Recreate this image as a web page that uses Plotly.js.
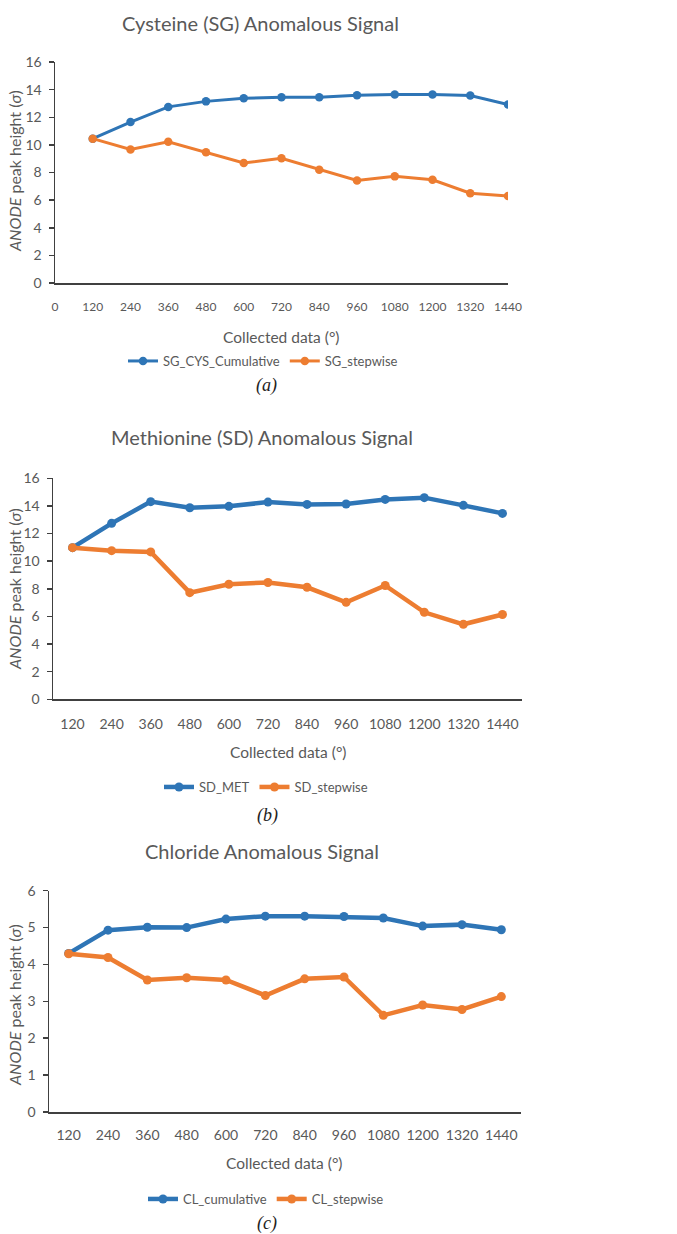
<!DOCTYPE html>
<html>
<head>
<meta charset="utf-8">
<script src="https://cdn.plot.ly/plotly-3.0.1.min.js"></script>
<style>
html,body{margin:0;padding:0;background:#fff;}
#chart{width:677px;height:1234px;}
</style>
</head>
<body>
<div id="chart"></div>
<script>
// ---- data ----
const collected = [120, 240, 360, 480, 600, 720, 840, 960, 1080, 1200, 1320, 1440];
const xTicksA = [0, 120, 240, 360, 480, 600, 720, 840, 960, 1080, 1200, 1320, 1440];

const sgCysCumulative = [10.45, 11.65, 12.75, 13.15, 13.37, 13.44, 13.44, 13.6, 13.65, 13.65, 13.57, 12.92];
const sgStepwise      = [10.45, 9.67, 10.22, 9.47, 8.69, 9.03, 8.2, 7.42, 7.72, 7.47, 6.5, 6.3];

const sdMet           = [10.98, 12.74, 14.31, 13.87, 13.97, 14.28, 14.11, 14.14, 14.47, 14.6, 14.04, 13.46];
const sdStepwise      = [10.98, 10.76, 10.67, 7.72, 8.33, 8.46, 8.11, 7.02, 8.24, 6.3, 5.43, 6.14];

const clCumulative    = [4.3, 4.93, 5.01, 5.0, 5.23, 5.31, 5.31, 5.3, 5.26, 5.04, 5.08, 4.94];
const clStepwise      = [4.29, 4.19, 3.58, 3.64, 3.58, 3.16, 3.61, 3.66, 2.62, 2.9, 2.78, 3.13];

const titles = ["Cysteine (SG) Anomalous Signal", "Methionine (SD) Anomalous Signal", "Chloride Anomalous Signal"];
const captions = ["(a)", "(b)", "(c)"];
const seriesNames = [["SG_CYS_Cumulative", "SG_stepwise"], ["SD_MET", "SD_stepwise"], ["CL_cumulative", "CL_stepwise"]];
const xTitle = "Collected data (°)";
const yTitle = "<i>ANODE</i> peak height (<i>σ</i>)";

// ---- style ----
const W = 677, H = 1234;
const BLUE = "#2E75B6", ORANGE = "#ED7D31", TXT = "#595959", AX = "#404040";
const FONT = "Lato, sans-serif";
const px = x => x / W;
const py = y => 1 - y / H;

function trace(y, name, color, xa, ya, leg, lw, ms) {
  return {x: collected, y: y, name: name, type: "scatter", mode: "lines+markers",
    xaxis: xa, yaxis: ya, legend: leg,
    line: {color: color, width: lw}, marker: {color: color, size: ms}};
}

const data = [
  trace(sgCysCumulative, seriesNames[0][0], BLUE, "x", "y", "legend", 3, 8.5),
  trace(sgStepwise, seriesNames[0][1], ORANGE, "x", "y", "legend", 3, 8.5),
  trace(sdMet, seriesNames[1][0], BLUE, "x2", "y2", "legend2", 4.5, 9),
  trace(sdStepwise, seriesNames[1][1], ORANGE, "x2", "y2", "legend2", 4.5, 9),
  trace(clCumulative, seriesNames[2][0], BLUE, "x3", "y3", "legend3", 4.5, 9),
  trace(clStepwise, seriesNames[2][1], ORANGE, "x3", "y3", "legend3", 4.5, 9)
];

function xax(dom, range, tickvals, fs, anchor, standoff) {
  return {domain: dom, range: range, anchor: anchor, tickmode: "array", tickvals: tickvals,
    ticks: "", showgrid: false, zeroline: false, showline: true, linecolor: AX, linewidth: 1.5,
    tickfont: {family: FONT, size: fs, color: TXT}, ticklabelstandoff: standoff, fixedrange: true};
}
function yax(dom, range, dtick, anchor) {
  return {domain: dom, range: range, anchor: anchor, dtick: dtick, tick0: 0,
    ticks: "outside", ticklen: 5, tickcolor: AX, tickwidth: 1.5,
    showgrid: false, zeroline: false, showline: true, linecolor: AX, linewidth: 1.5,
    tickfont: {family: FONT, size: 14, color: TXT}, ticklabelstandoff: 4, fixedrange: true};
}
function legend(xPix, yPix) {
  return {orientation: "h", x: px(xPix), y: py(yPix), xanchor: "left", yanchor: "middle",
    font: {family: FONT, size: 13, color: TXT}, bgcolor: "rgba(0,0,0,0)", borderwidth: 0,
    itemwidth: 30, tracegroupgap: 0};
}

const ann = [];
function txt(text, x, y, size, opts) {
  ann.push(Object.assign({text: text, x: px(x), y: py(y), xref: "paper", yref: "paper",
    showarrow: false, xanchor: "center", yanchor: "middle",
    font: {family: FONT, size: size, color: TXT}}, opts || {}));
}
// chart titles
txt(titles[0], 260, 23, 20);
txt(titles[1], 262, 437, 20);
txt(titles[2], 262, 851, 20);
// x-axis titles
txt(xTitle, 281, 337, 15.5);
txt(xTitle, 288, 752, 15.5);
txt(xTitle, 284, 1163, 15.5);
// y-axis titles
txt(yTitle, 14, 171, 16, {textangle: -90});
txt(yTitle, 14, 589, 16, {textangle: -90});
txt(yTitle, 14, 1005, 16, {textangle: -90});
// captions
const capFont = {family: "Liberation Serif, DejaVu Serif, serif", size: 18, color: "#222"};
txt("<i>" + captions[0] + "</i>", 266, 385, 18, {font: capFont});
txt("<i>" + captions[1] + "</i>", 267, 815, 18, {font: capFont});
txt("<i>" + captions[2] + "</i>", 267, 1223, 18, {font: capFont});

const layout = {
  width: W, height: H, margin: {l: 0, r: 0, t: 0, b: 0},
  paper_bgcolor: "#fff", plot_bgcolor: "#fff", showlegend: true,
  xaxis:  xax([px(55), px(508)], [0, 1440], xTicksA, 12, "y", 12),
  yaxis:  yax([py(283), py(62)], [0, 16], 2, "x"),
  xaxis2: xax([px(53), px(522)], [60, 1500], collected, 14, "y2", 11),
  yaxis2: yax([py(699.3), py(478.3)], [0, 16], 2, "x2"),
  xaxis3: xax([px(49), px(521)], [60, 1500], collected, 14, "y3", 10),
  yaxis3: yax([py(1112), py(890.7)], [0, 6], 1, "x3"),
  legend:  legend(123, 361),
  legend2: legend(159, 787),
  legend3: legend(143, 1199),
  annotations: ann
};

Plotly.newPlot("chart", data, layout, {staticPlot: true, displayModeBar: false});
</script>
</body>
</html>
